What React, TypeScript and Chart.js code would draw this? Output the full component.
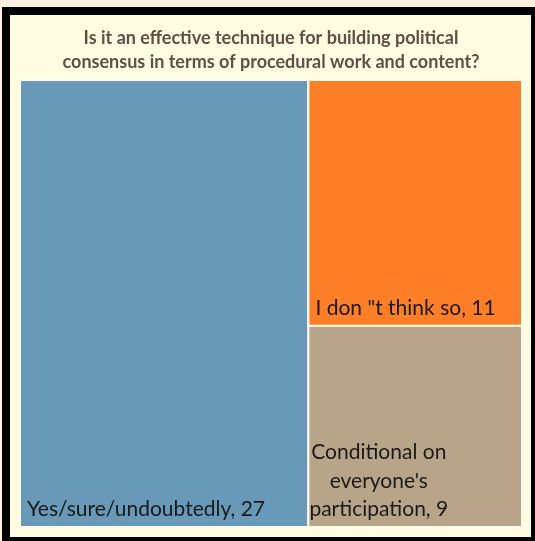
import React, { useEffect, useRef } from "react";
import { Chart, registerables } from "chart.js";

Chart.register(...registerables);

const titleLines = [
  "Is it an effective technique for building political",
  "consensus in terms of procedural work and content?",
];
const categories = [
  "Yes/sure/undoubtedly",
  "I don \"t think so",
  "Conditional on everyone's participation",
];
const values = [27, 11, 9];
const colors = ["#6899B8", "#FE7F27", "#B8A489"];
const labelLines = [
  ["Yes/sure/undoubtedly, 27"],
  ["I don \"t think so, 11"],
  ["Conditional on", "everyone's", "participation, 9"],
];

type Rect = { x0: number; x1: number; y0: number; y1: number };

function layoutRects(vals: number[]): Rect[] {
  // slice: first item takes a full-height column, the rest stack in a second column
  const total = vals.reduce((a, b) => a + b, 0);
  const rest = vals.slice(1).reduce((a, b) => a + b, 0);
  const rects: Rect[] = [{ x0: 0, x1: vals[0], y0: 0, y1: rest }];
  let top = rest;
  for (let i = 1; i < vals.length; i++) {
    rects.push({ x0: vals[0], x1: total, y0: top - vals[i], y1: top });
    top -= vals[i];
  }
  return rects;
}

const treemapPlugin = {
  id: "treemapRects",
  beforeDatasetsDraw(chart: any) {
    const ctx = chart.ctx as CanvasRenderingContext2D;
    const xs = chart.scales.x;
    const ys = chart.scales.y;
    const rects = layoutRects(values);
    rects.forEach((r, i) => {
      const left = xs.getPixelForValue(r.x0);
      const right = xs.getPixelForValue(r.x1);
      const top = ys.getPixelForValue(r.y1);
      const bottom = ys.getPixelForValue(r.y0);
      ctx.save();
      ctx.fillStyle = colors[i];
      ctx.fillRect(left, top, right - left, bottom - top);
      ctx.strokeStyle = "#FFFCEA";
      ctx.lineWidth = 2;
      ctx.strokeRect(left, top, right - left, bottom - top);
      ctx.restore();

      // label
      ctx.save();
      ctx.font = "21px Lato";
      ctx.fillStyle = "#1A1A1A";
      ctx.textBaseline = "alphabetic";
      const lines = labelLines[i];
      const lh = 28.5;
      if (lines.length === 1) {
        ctx.textAlign = "left";
        ctx.fillText(lines[0], left + 7, bottom - 11);
      } else {
        const w = Math.max(...lines.map((l) => ctx.measureText(l).width));
        const cx = left + 1 + w / 2;
        ctx.textAlign = "center";
        lines.forEach((l, k) => {
          ctx.fillText(l, cx, bottom - 11 - (lines.length - 1 - k) * lh);
        });
      }
      ctx.restore();
    });
  },
};

export default function App() {
  const ref = useRef<HTMLCanvasElement>(null);
  useEffect(() => {
    if (!ref.current) return;
    const total = values.reduce((a, b) => a + b, 0);
    const rest = values.slice(1).reduce((a, b) => a + b, 0);
    const chart = new Chart(ref.current, {
      type: "scatter",
      data: {
        labels: categories,
        datasets: [{ data: [], pointRadius: 0 }],
      },
      options: {
        animation: false,
        responsive: false,
        devicePixelRatio: 1,
        layout: { padding: { left: 10, right: 9, top: 0, bottom: 10 } },
        scales: {
          x: { type: "linear", min: 0, max: total, display: false },
          y: { type: "linear", min: 0, max: rest, display: false },
        },
        plugins: {
          legend: { display: false },
          tooltip: { enabled: false },
          title: {
            display: true,
            text: titleLines,
            color: "#5E5045",
            font: { family: "Lato", size: 18, weight: "bold", lineHeight: 1.3333 },
            padding: { top: 11, bottom: 6 },
          },
        },
      },
      plugins: [treemapPlugin],
    });
    return () => chart.destroy();
  }, []);

  return (
    <div
      style={{
        position: "absolute",
        left: 0,
        top: 0,
        width: 535,
        height: 541,
        background: "#FDF0DC",
        overflow: "hidden",
      }}
    >
      <div
        style={{
          position: "absolute",
          left: 2,
          top: 7,
          width: 533,
          height: 534,
          background: "#000000",
        }}
      />
      <div
        style={{
          position: "absolute",
          left: 10,
          top: 15,
          width: 521,
          height: 522,
          background: "#FFFCE1",
        }}
      >
        <canvas ref={ref} width={521} height={522} style={{ display: "block" }} />
      </div>
    </div>
  );
}
